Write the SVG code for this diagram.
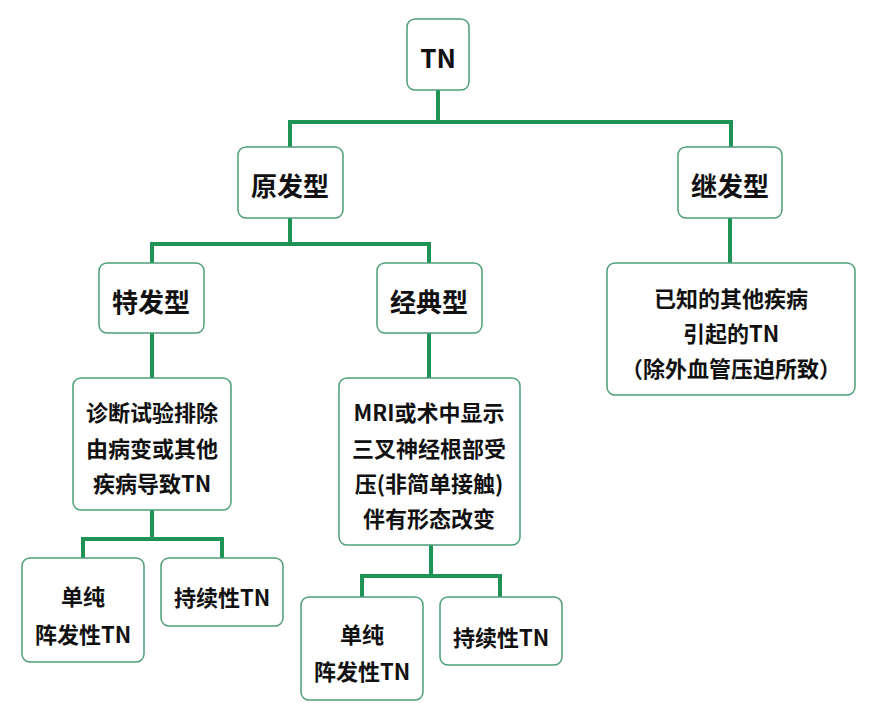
<svg xmlns="http://www.w3.org/2000/svg" width="879" height="703" viewBox="0 0 879 703">
<style>
.box{fill:#fff;stroke:#4e9e78;stroke-width:1.5}
.c{fill:none;stroke:#1e9356;stroke-width:4}
text{font-family:"Noto Sans CJK SC","Noto Sans",sans-serif;font-weight:bold;fill:#111;text-anchor:middle;dominant-baseline:central}
.h{font-size:26px}
.t{font-size:22px}
</style>
<rect width="879" height="703" fill="#fff"/>
<g id="connectors">
<path class="c" d="M438 90V122M290 147V122H731V147"/>
<path class="c" d="M290 218V244M152 263V244H429V263"/>
<path class="c" d="M730 218V263"/>
<path class="c" d="M152 333V378"/>
<path class="c" d="M429 333V378"/>
<path class="c" d="M152 510V539M83 558V539H222V558"/>
<path class="c" d="M431 545V576M362 597V576H500V597"/>
</g>
<g id="tn"><rect class="box" x="407" y="19" width="62" height="71" rx="8"/><text class="h" x="438" y="56">TN</text></g>
<g id="primary"><rect class="box" x="238" y="147" width="105" height="71" rx="8"/><text class="h" x="290" y="184">原发型</text></g>
<g id="secondary"><rect class="box" x="678" y="147" width="104" height="71" rx="8"/><text class="h" x="730" y="184">继发型</text></g>
<g id="idiopathic"><rect class="box" x="99" y="263" width="105" height="70" rx="8"/><text class="h" x="151" y="300">特发型</text></g>
<g id="classic"><rect class="box" x="377" y="263" width="105" height="70" rx="8"/><text class="h" x="429" y="300">经典型</text></g>
<g id="idio-desc"><rect class="box" x="73" y="378" width="158" height="132" rx="8"/>
<text class="t" x="152" y="411">诊断试验排除</text><text class="t" x="152" y="447">由病变或其他</text><text class="t" x="152" y="482">疾病导致TN</text></g>
<g id="classic-desc"><rect class="box" x="339" y="378" width="181" height="167" rx="8"/>
<text class="t" x="429" y="411">MRI或术中显示</text><text class="t" x="429" y="447">三叉神经根部受</text><text class="t" x="429" y="482">压(非简单接触)</text><text class="t" x="429" y="517">伴有形态改变</text></g>
<g id="secondary-desc"><rect class="box" x="607" y="263" width="248" height="132" rx="8"/>
<text class="t" x="731" y="297">已知的其他疾病</text><text class="t" x="731" y="332">引起的TN</text><text class="t" x="731" y="367">（除外血管压迫所致）</text></g>
<g id="idio-simple"><rect class="box" x="22" y="558" width="122" height="104" rx="8"/>
<text class="t" x="83" y="595">单纯</text><text class="t" x="83" y="633">阵发性TN</text></g>
<g id="idio-persist"><rect class="box" x="161" y="558" width="122" height="68" rx="8"/>
<text class="t" x="222" y="596">持续性TN</text></g>
<g id="classic-simple"><rect class="box" x="301" y="597" width="122" height="103" rx="8"/>
<text class="t" x="362" y="633">单纯</text><text class="t" x="362" y="670">阵发性TN</text></g>
<g id="classic-persist"><rect class="box" x="440" y="597" width="122" height="68" rx="8"/>
<text class="t" x="501" y="636">持续性TN</text></g>
</svg>
